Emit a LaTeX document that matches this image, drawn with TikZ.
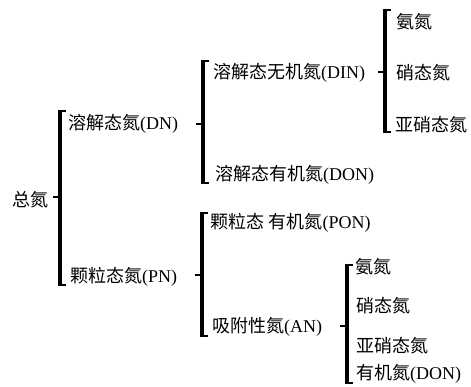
\documentclass[tikz,border=0pt]{standalone}
\usepackage{fontspec}
\setmainfont{Liberation Serif}
\newfontfamily\cjk{Noto Sans CJK SC}
\newcommand{\zh}[1]{{\cjk #1}}
\begin{document}
\begin{tikzpicture}[x=1pt,y=1pt,
  lab/.style={anchor=west,inner sep=0pt,font=\fontsize{18}{18}\selectfont},
  brk/.style={line width=3.2pt,line cap=butt,line join=miter},
  hook/.style={line width=2.4pt}]
\useasboundingbox (0,0) rectangle (471,386);
\fill[white] (0,0) rectangle (471,386);
% labels
\node[lab] (tot) at (12,186) {\zh{总氮}};
\node[lab] (dn) at (68,262) {\zh{溶解态氮}(DN)};
\node[lab] (pn) at (70,109) {\zh{颗粒态氮}(PN)};
\node[lab] (din) at (213,313) {\zh{溶解态无机氮}(DIN)};
\node[lab] (don) at (215,211) {\zh{溶解态有机氮}(DON)};
\node[lab] (a1) at (396,364) {\zh{氨氮}};
\node[lab] (n1) at (396,313) {\zh{硝态氮}};
\node[lab] (nn1) at (395,261) {\zh{亚硝态氮}};
\node[lab] (pon) at (210,163) {\zh{颗粒态} \zh{有机氮}(PON)};
\node[lab] (an) at (212,59) {\zh{吸附性氮}(AN)};
\node[lab] (a2) at (355,119) {\zh{氨氮}};
\node[lab] (n2) at (356,80) {\zh{硝态氮}};
\node[lab] (nn2) at (356,40) {\zh{亚硝态氮}};
\node[lab] (on2) at (356,12) {\zh{有机氮}(DON)};
% bracket coordinates
\coordinate (b0t) at (60,275); \coordinate (b0b) at (60,101); \coordinate (b0m) at (60,189);
\coordinate (b1t) at (203,325); \coordinate (b1b) at (203,203); \coordinate (b1m) at (203,262);
\coordinate (b2t) at (385,376); \coordinate (b2b) at (385,254); \coordinate (b2m) at (385,314);
\coordinate (b3t) at (202,173); \coordinate (b3b) at (202,50); \coordinate (b3m) at (202,111);
\coordinate (b4t) at (347,121); \coordinate (b4b) at (347,3); \coordinate (b4m) at (347,60);
\foreach \b in {b0,b1,b2,b3,b4}{
  \draw[brk] ([yshift=1.2pt]\b t) -- ([yshift=-1.2pt]\b b);
  \draw[hook] ([xshift=-1.5pt]\b t) -- ++(7,0);
  \draw[hook] ([xshift=-1.5pt]\b b) -- ++(7,0);
  \draw[hook] (\b m) -- ++(-7,0);
}
\end{tikzpicture}
\end{document}
